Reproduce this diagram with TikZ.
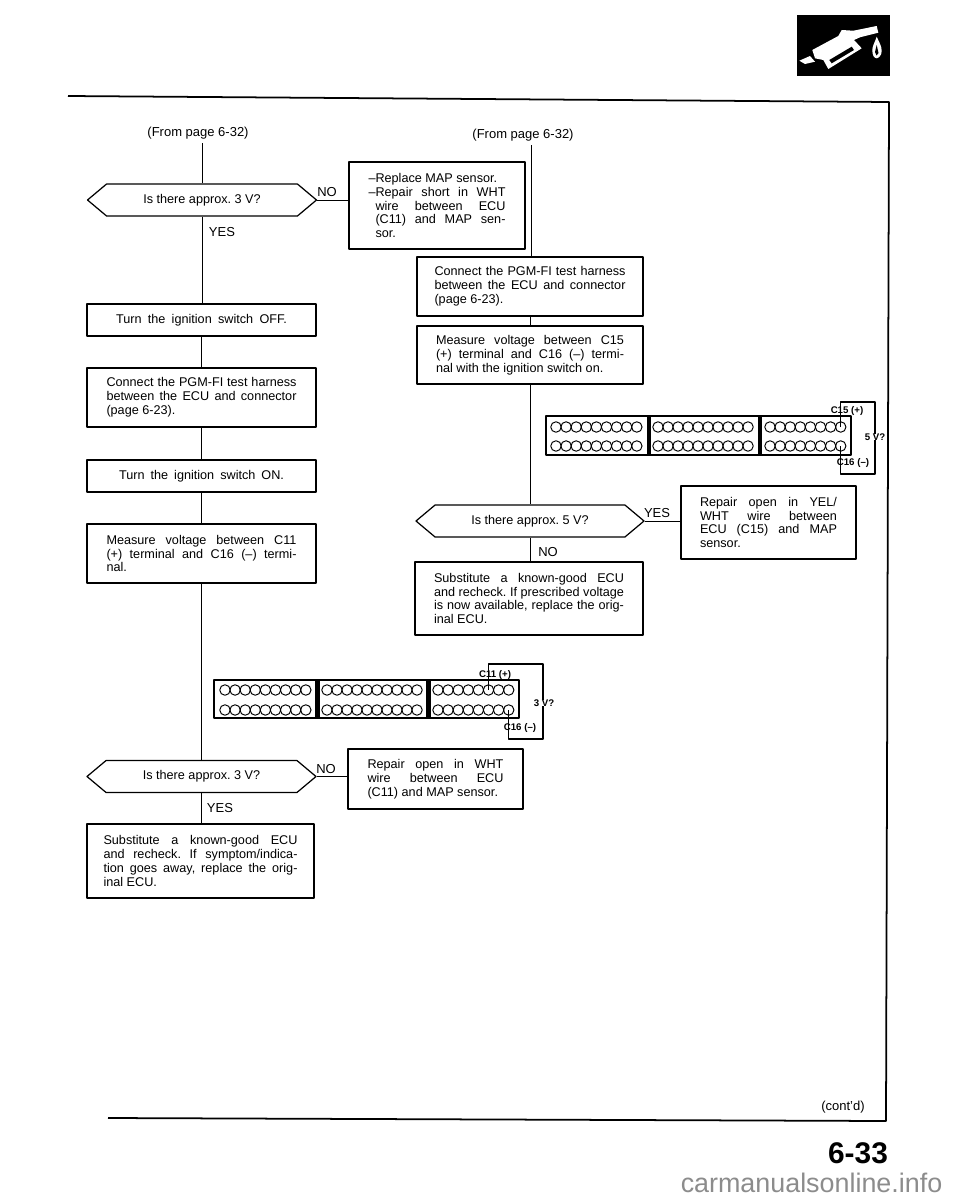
\documentclass[tikz,border=0pt]{standalone}
\usepackage{fontspec}
\setmainfont{Liberation Sans}
\usetikzlibrary{shapes.symbols}
\newlength\pix
\setlength\pix{0.02cm}
\frenchspacing
\tikzset{
  stepbox/.style={draw,line width=0.7pt,inner sep=0pt,align=justify,font=\fontsize{7.2}{7.9}\selectfont},
  question/.style={draw,line width=0.7pt,signal,signal to=east and west,signal pointer angle=80,inner sep=0pt,minimum width=229\pix,minimum height=32\pix,font=\fontsize{7.2}{8}\selectfont},
  answer/.style={inner sep=0pt,font=\fontsize{7.4}{8}\selectfont},
  flow/.style={line width=0.5pt},
  plug/.style={draw,line width=0.8pt,inner sep=0pt},
  hole/.style={circle,draw,line width=0.55pt,minimum size=10.5\pix,inner sep=0pt},
  pinlabel/.style={inner sep=0pt,font=\fontsize{5.5}{6}\selectfont\bfseries},
}
% holes of one row: prefix, y, then the left x of the three groups
\newcommand{\holerow}[5]{
  \foreach \i in {1,...,9} \node[hole] (#1a\i) at ({#3+10.1*(\i-1)},#2) {};
  \foreach \i in {1,...,10} \node[hole] (#1b\i) at ({#4+10*(\i-1)},#2) {};
  \foreach \i in {1,...,8} \node[hole] (#1c\i) at ({#5+10.1*(\i-1)},#2) {};
}
\begin{document}
\begin{tikzpicture}[x=0.02cm,y=-0.02cm,line join=round]
\useasboundingbox (0,0) rectangle (960,1200);
% frame of the page
\draw[line width=1pt] (68,96)--(889,102)--(886,1121)--(108,1118);
% fuel nozzle
\fill (797,15) rectangle (890,76);
\fill[white] (799.3,60.7)--(810,56)--(815,61.7)--(805,64)--cycle;
\fill[white] (812.3,50)--(838.3,36)--(841.7,30)--(853.3,30.7)--(876.7,26)--(878.3,32.7)--(860,37.3)--(854,40)--(861.7,48.3)--(828.3,69)--(823.3,60)--(815,58.3)--cycle;
\fill (829.3,60)--(851.7,46.7)--(854,50)--(831.7,63.3)--cycle;
\fill[white] (876.7,36.7)..controls (879,42) and (881.7,46) .. (881.7,51)..controls (881.7,56) and (878,58.3) .. (876.7,58.3)..controls (874,58.3) and (872.3,55) .. (872.3,50)..controls (872.3,46) and (875,42) .. (876.7,36.7)--cycle;
\fill (876.7,45)--(878.5,53)--(876.5,55.5)--(875,52)--cycle;

% left column
\node[answer] (from1) at (198,133) {(From page 6-32)};
\coordinate (top1) at (202,143);
\node[question] (q1) at (202,200) {Is there approx. 3 V?};
\node[stepbox,minimum width=176\pix,minimum height=87\pix,text width=137\pix] (no1) at (437,205.5) {--Replace MAP sensor.\\--Repair short in WHT\linebreak\hspace*{7\pix}wire between ECU\linebreak\hspace*{7\pix}(C11) and MAP sen-\linebreak\hspace*{7\pix}sor.};
\node[stepbox,minimum width=229\pix,minimum height=32\pix,text width=171\pix] (off) at (201.5,320) {\makebox[\linewidth][s]{Turn the ignition switch OFF.}};
\node[stepbox,minimum width=229\pix,minimum height=59\pix,text width=190\pix] (conn1) at (201.5,397.5) {Connect the PGM-FI test harness\linebreak between the ECU and connector\linebreak (page 6-23).};
\node[stepbox,minimum width=229\pix,minimum height=32\pix,text width=165\pix] (on) at (201.5,476) {\makebox[\linewidth][s]{Turn the ignition switch ON.}};
\node[stepbox,minimum width=229\pix,minimum height=59\pix,text width=190\pix] (meas1) at (201.5,553.5) {Measure voltage between C11\linebreak (+) terminal and C16 (--) termi-\linebreak nal.};
\node[question] (q3) at (201.5,776.5) {Is there approx. 3 V?};
\node[stepbox,minimum width=175\pix,minimum height=60\pix,text width=136\pix] (rep1) at (435.5,779) {Repair open in WHT\linebreak wire between ECU\linebreak (C11) and MAP sensor.};
\node[stepbox,minimum width=227\pix,minimum height=74\pix,text width=194\pix] (sub1) at (200.5,861) {Substitute a known-good ECU\linebreak and recheck. If symptom/indica-\linebreak tion goes away, replace the orig-\linebreak inal ECU.};
\node[answer] at (327,192) {NO};
\node[answer] at (222,232) {YES};
\node[answer] at (326,769) {NO};
\node[answer] at (220,808) {YES};

% right column
\node[answer] (from2) at (523,135) {(From page 6-32)};
\coordinate (top2) at (531,145);
\node[stepbox,minimum width=226\pix,minimum height=59\pix,text width=191\pix] (conn2) at (530,286.5) {Connect the PGM-FI test harness\linebreak between the ECU and connector\linebreak (page 6-23).};
\node[stepbox,minimum width=226\pix,minimum height=58\pix,text width=188\pix] (meas2) at (530,355) {Measure voltage between C15\linebreak (+) terminal and C16 (--) termi-\linebreak nal with the ignition switch on.};
\node[question,minimum width=228\pix] (q2) at (530,521) {Is there approx. 5 V?};
\node[stepbox,minimum width=175\pix,minimum height=73\pix,text width=137\pix] (rep2) at (768.5,522.5) {Repair open in YEL/\linebreak WHT wire between\linebreak ECU (C15) and MAP\linebreak sensor.};
\node[stepbox,minimum width=228\pix,minimum height=73\pix,text width=190\pix] (sub2) at (529,598.5) {Substitute a known-good ECU\linebreak and recheck. If prescribed voltage\linebreak is now available, replace the orig-\linebreak inal ECU.};
\node[answer] at (657,513) {YES};
\node[answer] at (548,552) {NO};

% flow lines
\draw[flow] (top1)--(q1.north);
\draw[flow] (q1.south)--(off.north-|q1.south);
\draw[flow] (off.south)--(conn1.north);
\draw[flow] (conn1.south)--(on.north);
\draw[flow] (on.south)--(meas1.north);
\draw[flow] (meas1.south)--(q3.north);
\draw[flow] (q3.south)--(sub1.north-|q3.south);
\draw[flow] (q1.east)--(no1.west|-q1.east);
\draw[flow] (q3.east)--(rep1.west|-q3.east);
\draw[flow] (top2)--(top2|-conn2.north);
\draw[flow] (conn2.south)--(meas2.north);
\draw[flow] (meas2.south)--(q2.north);
\draw[flow] (q2.south)--(sub2.north-|q2.south);
\draw[flow] (q2.east)--(rep2.west|-q2.east);

% connector at C15
\node[plug,minimum width=305\pix,minimum height=39\pix] (plug2) at (698.5,435.5) {};
\fill (646.5,416) rectangle (651,455);
\fill (757.5,416) rectangle (762,455);
\holerow{rt}{427}{556}{658}{770}
\holerow{rb}{446}{556}{658}{770}
\coordinate (wire2a) at (875,402);
\coordinate (wire2b) at (875,474);
\draw[line width=0.7pt] (rtc8.center)|-(wire2a)--(wire2b)-|(rbc8.center);
\node[pinlabel] (c15) at (847,411) {C15 (+)};
\node[pinlabel] (c16r) at (853,463) {C16 (--)};
\node[pinlabel,fill=white] (v5) at (875,437) {5 V?};

% connector at C11
\node[plug,minimum width=305\pix,minimum height=38\pix] (plug1) at (366.5,699) {};
\fill (315,680) rectangle (319.5,718);
\fill (426,680) rectangle (430.5,718);
\holerow{lt}{690}{225}{327}{438}
\holerow{lb}{710}{225}{327}{438}
\coordinate (wire1a) at (543,664);
\coordinate (wire1b) at (543,739);
\draw[line width=0.7pt] (ltc6.center)|-(wire1a)--(wire1b)-|(lbc8.center);
\node[pinlabel] (c11) at (495,675) {C11 (+)};
\node[pinlabel] (c16l) at (520,728) {C16 (--)};
\node[pinlabel,fill=white] (v3) at (544,703) {3 V?};

\node[answer] (cont) at (843,1107) {(cont'd)};
\node[inner sep=0pt,font=\fontsize{17}{17}\selectfont\bfseries] (pageno) at (858,1153) {6-33};
\node[inner sep=0pt,text=black!45,font=\fontsize{15.3}{16}\selectfont] (site) at (811.5,1183) {carmanualsonline.info};
\end{tikzpicture}
\end{document}
